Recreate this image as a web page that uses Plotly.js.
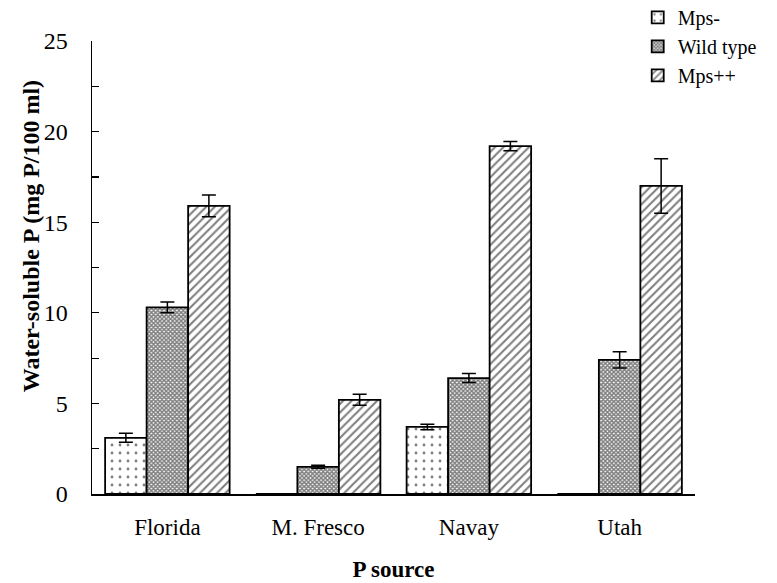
<!DOCTYPE html>
<html>
<head>
<meta charset="utf-8">
<script src="https://cdn.plot.ly/plotly-3.0.1.min.js"></script>
<style>html,body{margin:0;padding:0;background:#fff}#chart{width:777px;height:583px}</style>
</head>
<body>
<div id="chart"></div>
<script>
var categories = ["Florida", "M. Fresco", "Navay", "Utah"];
var seriesNames = ["Mps-", "Wild type", "Mps++"];
var mpsMinus = [3.1, 0, 3.7, 0];
var mpsMinusErr = [0.25, 0, 0.15, 0];
var wildType = [10.3, 1.5, 6.4, 7.4];
var wildTypeErr = [0.3, 0.08, 0.25, 0.45];
var mpsPlus = [15.9, 5.2, 19.2, 17.0];
var mpsPlusErr = [0.6, 0.3, 0.25, 1.5];
var yTicks = [0, 5, 10, 15, 20, 25];

var font = "Liberation Serif, Times New Roman, serif";
function bar(name, y, err, shape, size, solidity) {
  return {
    type: "bar", name: name, x: categories, y: y,
    error_y: {type: "data", array: err, visible: true, color: "#000", thickness: 1.5, width: 7},
    marker: {
      color: "#fff",
      line: {color: "#000", width: 1.8},
      pattern: {shape: shape, size: size, solidity: solidity, fgcolor: "#000", bgcolor: "#fff", fillmode: "overlay"}
    }
  };
}
var data = [
  bar(seriesNames[0], mpsMinus, mpsMinusErr, ".", 8, 0.1),
  bar(seriesNames[1], wildType, wildTypeErr, "x", 3, 0.75),
  bar(seriesNames[2], mpsPlus, mpsPlusErr, "/", 6, 0.35)
];
var layout = {
  width: 777, height: 583,
  margin: {l: 92, r: 82, t: 41, b: 89, autoexpand: false},
  paper_bgcolor: "#fff", plot_bgcolor: "#fff",
  font: {family: font, size: 23, color: "#000"},
  barmode: "group", bargap: 0.174, bargroupgap: 0,
  showlegend: true,
  legend: {x: 0.905, y: 1.095, xanchor: "left", yanchor: "top", bgcolor: "rgba(0,0,0,0)",
           font: {family: font, size: 20, color: "#000"}, tracegroupgap: 0, itemwidth: 30},
  xaxis: {
    showline: true, linecolor: "#000", linewidth: 1.5, ticks: "", showgrid: false, zeroline: false,
    tickfont: {family: font, size: 23}, ticklabelstandoff: 12,
    title: {text: "<b>P source</b>", font: {family: font, size: 23}, standoff: 22}
  },
  yaxis: {
    range: [0, 25], tickvals: yTicks, ticktext: yTicks.map(String),
    showline: true, linecolor: "#000", linewidth: 1.5, ticks: "inside", ticklen: 7, tickwidth: 1.2, tickcolor: "#000",
    minor: {dtick: 2.5, ticks: "inside", ticklen: 7, tickwidth: 1.2, tickcolor: "#000", showgrid: false},
    showgrid: false, zeroline: false, ticklabelstandoff: 18,
    tickfont: {family: font, size: 24}
  },
  annotations: [{
    text: "<b>Water-soluble P (mg P/100 ml)</b>", textangle: -90, showarrow: false,
    xref: "paper", yref: "paper", x: -0.102, y: 0.57, xanchor: "center", yanchor: "middle",
    font: {family: font, size: 24, color: "#000"}
  }]
};
Plotly.newPlot("chart", data, layout, {displayModeBar: false, staticPlot: true});
</script>
</body>
</html>
